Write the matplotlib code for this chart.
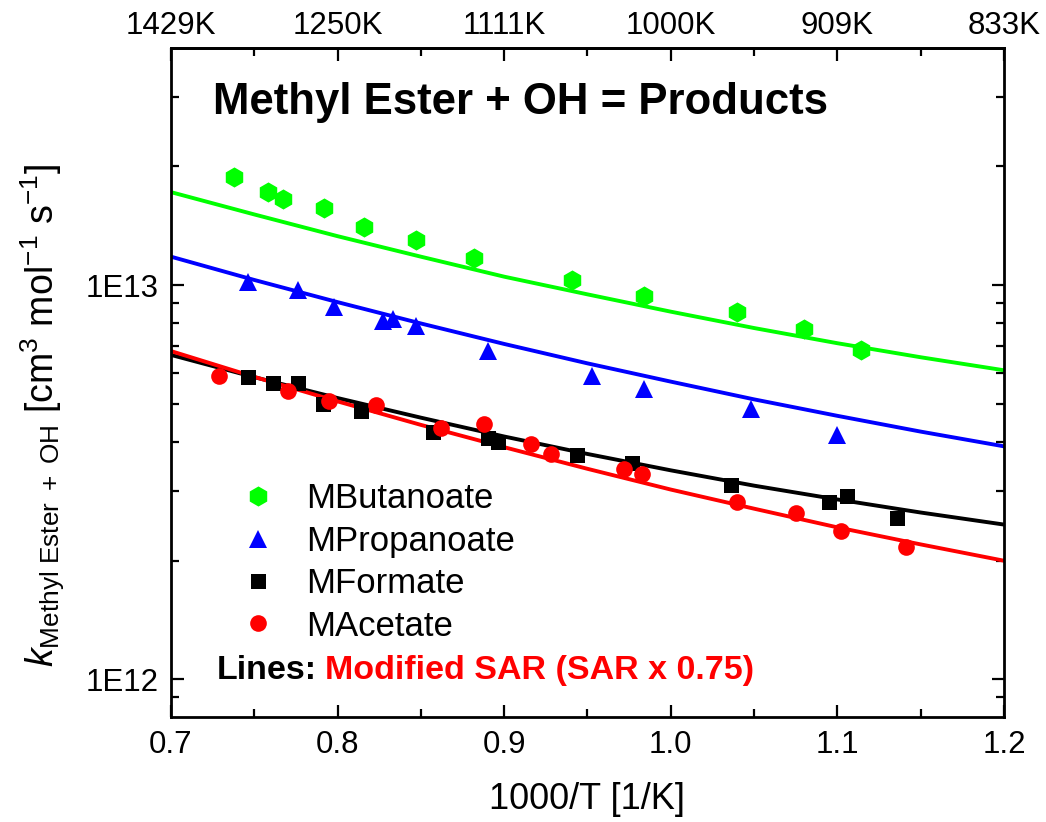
import matplotlib
matplotlib.use("Agg")
import matplotlib.pyplot as plt
from matplotlib.ticker import FixedLocator, FixedFormatter, LogLocator, NullFormatter, MultipleLocator

plt.rcParams["font.family"] = ["Liberation Sans", "DejaVu Sans"]
plt.rcParams["mathtext.fontset"] = "custom"
plt.rcParams["mathtext.rm"] = "Liberation Sans"
plt.rcParams["mathtext.it"] = "Liberation Sans:italic"
plt.rcParams["mathtext.bf"] = "Liberation Sans:bold"

# measured rate constants (x = 1000/T, k in cm3 mol-1 s-1)
but_x = [0.738, 0.758, 0.767, 0.792, 0.816, 0.847, 0.882, 0.941, 0.984, 1.040, 1.080, 1.114]
but_k = [1.88e13, 1.72e13, 1.65e13, 1.57e13, 1.40e13, 1.30e13, 1.17e13, 1.03e13, 9.39e12, 8.53e12, 7.74e12, 6.84e12]

prop_x = [0.746, 0.776, 0.798, 0.827, 0.833, 0.847, 0.890, 0.953, 0.984, 1.048, 1.100]
prop_k = [1.02e13, 9.71e12, 8.78e12, 8.10e12, 8.20e12, 7.89e12, 6.80e12, 5.88e12, 5.44e12, 4.84e12, 4.17e12]

form_x = [0.746, 0.761, 0.776, 0.791, 0.814, 0.857, 0.890, 0.896, 0.944, 0.977, 1.036, 1.095, 1.106, 1.136]
form_k = [5.85e12, 5.63e12, 5.63e12, 4.98e12, 4.80e12, 4.25e12, 4.09e12, 4.00e12, 3.71e12, 3.53e12,
          3.11e12, 2.82e12, 2.92e12, 2.57e12]

acet_x = [0.729, 0.770, 0.795, 0.823, 0.862, 0.888, 0.916, 0.928, 0.972, 0.983, 1.040, 1.075, 1.102, 1.141]
acet_k = [5.88e12, 5.39e12, 5.09e12, 4.96e12, 4.33e12, 4.43e12, 3.95e12, 3.74e12, 3.42e12, 3.31e12,
          2.82e12, 2.64e12, 2.38e12, 2.17e12]

# modified SAR curves
sar_x = [0.70, 0.75, 0.80, 0.85, 0.90, 0.95, 1.00, 1.05, 1.10, 1.15, 1.20]
sar_but = [1.72e13, 1.51e13, 1.33e13, 1.18e13, 1.05e13, 9.47e12, 8.56e12, 7.78e12, 7.12e12, 6.56e12, 6.08e12]
sar_prop = [1.18e13, 1.03e13, 9.05e12, 7.99e12, 7.09e12, 6.33e12, 5.69e12, 5.13e12, 4.66e12, 4.25e12, 3.90e12]
sar_form = [6.65e12, 5.84e12, 5.17e12, 4.61e12, 4.13e12, 3.73e12, 3.39e12, 3.10e12, 2.86e12, 2.65e12, 2.47e12]
sar_acet = [6.80e12, 5.85e12, 5.07e12, 4.42e12, 3.88e12, 3.42e12, 3.03e12, 2.71e12, 2.43e12, 2.20e12, 2.00e12]

x_ticks = [0.7, 0.8, 0.9, 1.0, 1.1, 1.2]
x_labels = ["0.7", "0.8", "0.9", "1.0", "1.1", "1.2"]
t_labels = ["1429K", "1250K", "1111K", "1000K", "909K", "833K"]
y_ticks = [1e12, 1e13]
y_labels = ["1E12", "1E13"]

green, blue, red = "#00ff00", "#0000ff", "#ff0000"

fig = plt.figure(figsize=(10.46, 8.22), dpi=100)
ax = fig.add_axes([0.1635, 0.1277, 0.7963, 0.8139])

lw = 2.8
ax.plot(sar_x, sar_but, color=green, lw=lw, zorder=2)
ax.plot(sar_x, sar_prop, color=blue, lw=lw, zorder=2)
ax.plot(sar_x, sar_form, color="black", lw=lw, zorder=2)
ax.plot(sar_x, sar_acet, color=red, lw=lw, zorder=2)

ax.plot(but_x, but_k, "h", color=green, ms=14.5, mew=0, label="MButanoate", zorder=3)
ax.plot(prop_x, prop_k, "^", color=blue, ms=13.5, mew=0, label="MPropanoate", zorder=3)
ax.plot(form_x, form_k, "s", color="black", ms=10.8, mew=0, label="MFormate", zorder=3)
ax.plot(acet_x, acet_k, "o", color=red, ms=12, mew=0, label="MAcetate", zorder=3)

ax.set_yscale("log")
ax.set_xlim(0.7, 1.2)
ax.set_ylim(8.03e11, 3.99e13)

ax.xaxis.set_major_locator(FixedLocator(x_ticks))
ax.xaxis.set_major_formatter(FixedFormatter(x_labels))
ax.xaxis.set_minor_locator(MultipleLocator(0.05))
ax.yaxis.set_major_locator(FixedLocator(y_ticks))
ax.yaxis.set_major_formatter(FixedFormatter(y_labels))
ax.yaxis.set_minor_locator(LogLocator(base=10, subs=range(2, 10)))
ax.yaxis.set_minor_formatter(NullFormatter())

for s in ax.spines.values():
    s.set_linewidth(2.0)
ax.tick_params(which="both", direction="in", top=False, right=True, width=1.6, labelsize=22.5)
ax.tick_params(which="major", length=9)
ax.tick_params(which="minor", length=5.5)
ax.tick_params(axis="x", pad=9)
ax.tick_params(axis="y", pad=9)

top = ax.secondary_xaxis("top")
top.set_xticks(x_ticks, labels=t_labels)
top.xaxis.set_minor_locator(MultipleLocator(0.05))
top.spines["top"].set_linewidth(2.0)
top.tick_params(which="both", direction="in", width=1.6, labelsize=22.5, pad=5)
top.tick_params(which="major", length=9)
top.tick_params(which="minor", length=5.5)

ax.set_xlabel("1000/T [1/K]", fontsize=26, labelpad=16)
ax.set_ylabel(r"$k_{\mathrm{Methyl\ Ester\ +\ OH}}$ [cm$^{3}$ mol$^{-1}$ s$^{-1}$]", fontsize=27)
ax.yaxis.set_label_coords(-0.125, 0.45)

ax.text(0.05, 0.918, "Methyl Ester + OH = Products", transform=ax.transAxes,
        fontsize=31.5, fontweight="bold", ha="left", va="center")

leg = ax.legend(loc="center left", bbox_to_anchor=(0.083, 0.231), frameon=False,
                fontsize=25, handlelength=1.0, handletextpad=0.9, labelspacing=0.27,
                borderpad=0, borderaxespad=0, numpoints=1)

lines_txt = ax.text(0.055, 0.07, "Lines:", transform=ax.transAxes, fontsize=24.5,
                    fontweight="bold", ha="left", va="center")
ax.annotate("Modified SAR (SAR x 0.75)", xy=(1, 0.5), xycoords=lines_txt,
            xytext=(6, 0), textcoords="offset points", fontsize=24.5,
            fontweight="bold", color=red, ha="left", va="center")

fig.savefig("out.png", dpi=100)
